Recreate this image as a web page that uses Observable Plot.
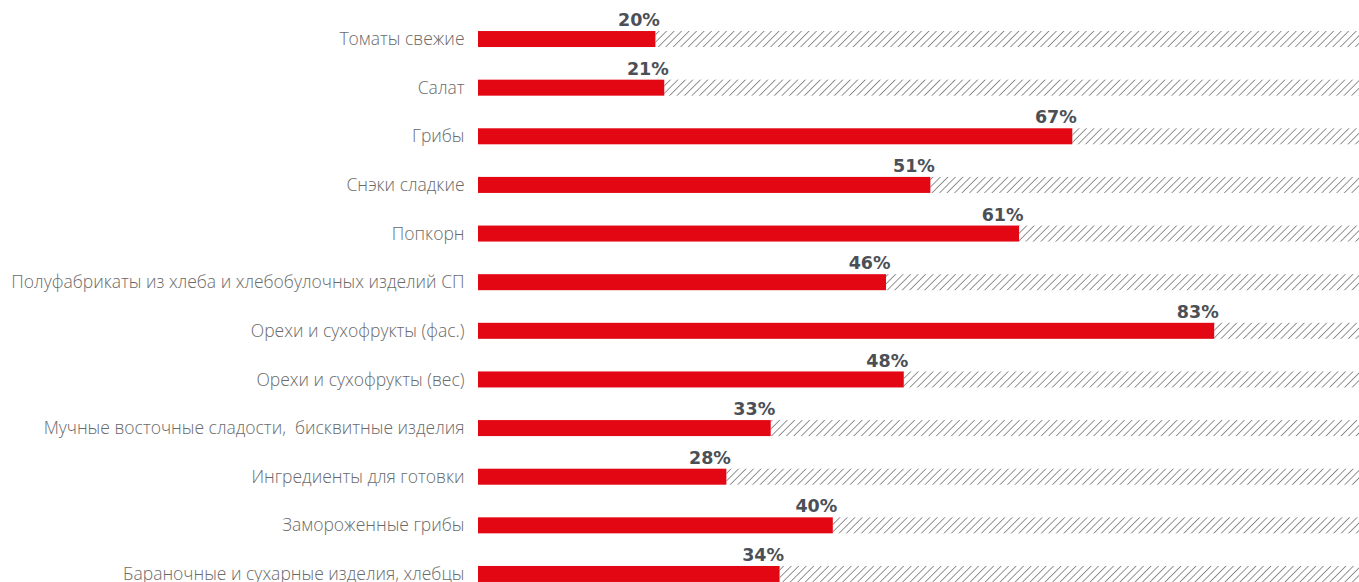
<!DOCTYPE html>
<html>
<head>
<meta charset="utf-8">
<script src="https://cdn.jsdelivr.net/npm/d3@7"></script>
<script src="https://cdn.jsdelivr.net/npm/@observablehq/plot@0.6"></script>
<style>
  html, body { margin: 0; padding: 0; background: #fff; overflow: hidden; }
  #chart svg { display: block; }
</style>
</head>
<body>
<div id="chart"></div>
<script>
const categories = [
  "Томаты свежие",
  "Салат",
  "Грибы",
  "Снэки сладкие",
  "Попкорн",
  "Полуфабрикаты из хлеба и хлебобулочных изделий СП",
  "Орехи и сухофрукты (фас.)",
  "Орехи и сухофрукты (вес)",
  "Мучные восточные сладости,  бисквитные изделия",
  "Ингредиенты для готовки",
  "Замороженные грибы",
  "Бараночные и сухарные изделия, хлебцы"
];
const values = [20, 21, 67, 51, 61, 46, 83, 48, 33, 28, 40, 34];
const total = 100;

const data = categories.map((c, i) => ({category: c, value: values[i], total}));

const chart = Plot.plot({
  width: 1359,
  height: 582,
  marginLeft: 478,
  marginRight: -6,
  style: {background: "#fff", overflow: "hidden"},
  x: {domain: [0, 100], axis: null},
  y: {domain: categories, range: [-1.6, 614.6], padding: 0.671, round: false, label: null},
  marks: [
    Plot.barX(data, {y: "category", x1: "value", x2: "total", fill: "url(#hatch)"}),
    Plot.barX(data, {y: "category", x1: 0, x2: "value", fill: "#E30613"}),
    Plot.text(data, {
      y: "category", x: "value", text: d => d.value + "%",
      textAnchor: "end", dx: 4, dy: -19,
      fontSize: 17.5, fontWeight: "bold", fill: "#4b5056",
      fontFamily: "'DejaVu Sans', sans-serif"
    }),
    Plot.axisY({tickSize: 0, tickPadding: 14, fontSize: 17.5, fill: "#6a6a6a",
      fontFamily: "'Open Sans', sans-serif", label: null})
  ]
});

// hatch pattern
const svg = d3.select(chart);
const defs = svg.insert("defs", ":first-child");
const pat = defs.append("pattern")
  .attr("id", "hatch")
  .attr("patternUnits", "userSpaceOnUse")
  .attr("width", 5.3).attr("height", 5.3)
  .attr("patternTransform", "rotate(45)");
pat.append("line")
  .attr("x1", 0).attr("y1", 0).attr("x2", 0).attr("y2", 5.3)
  .attr("stroke", "#7a7a7a").attr("stroke-width", 1.6);

svg.selectAll("g[aria-label='y-axis tick label']")
  .style("font-weight", 300);

document.getElementById("chart").appendChild(chart);
</script>
</body>
</html>
